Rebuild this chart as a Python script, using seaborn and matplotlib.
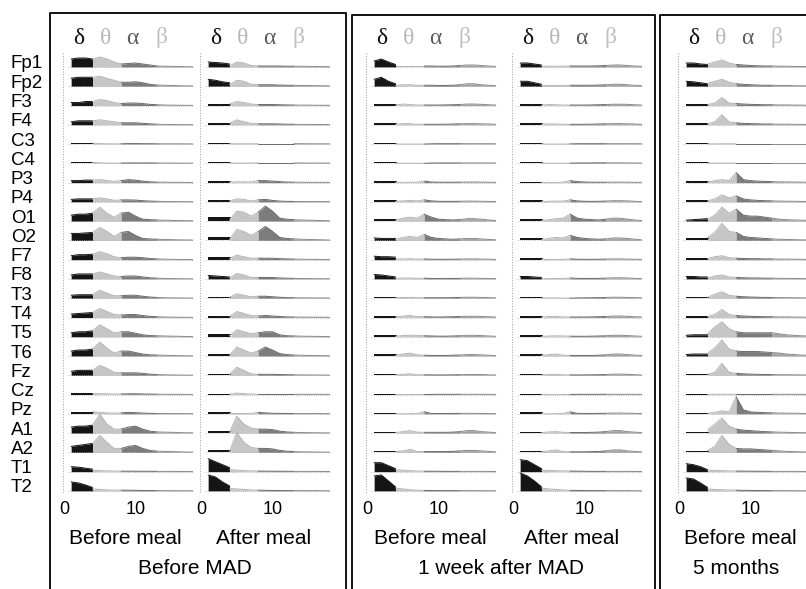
import pandas as pd
import matplotlib
matplotlib.use("Agg")
import matplotlib.pyplot as plt
from matplotlib.lines import Line2D
import seaborn as sns

# EEG power spectra, heights (px above each baseline)
channels = ['Fp1', 'Fp2', 'F3', 'F4', 'C3', 'C4', 'P3', 'P4', 'O1', 'O2', 'F7', 'F8',
            'T3', 'T4', 'T5', 'T6', 'Fz', 'Cz', 'Pz', 'A1', 'A2', 'T1', 'T2']
# 4 Hz appears twice: end of the delta block and start of theta
freqs = [1, 2, 3, 4, 4, 5, 6, 7, 8, 9, 10, 11, 12, 13, 14, 15, 16, 17, 18]
band_names = ['δ', 'θ', 'α', 'β']

mad0_pre = [
    [8, 9, 9, 8, 8, 10, 8, 5, 3, 3.5, 4, 3, 2, 1, 0.8, 0.6, 0.5, 0.3, 0.2],
    [8, 9, 9, 9, 9, 10, 8, 6, 4, 4, 4.5, 3.5, 2, 1.2, 1, 0.8, 0.6, 0.4, 0.3],
    [3, 3, 4, 4, 4, 6, 5, 3, 2, 2.5, 2.5, 2, 1.2, 0.8, 0.5, 0.4, 0.3, 0.2, 0.2],
    [3, 4, 4, 4, 4, 5, 4, 3, 2, 2, 2, 1.5, 1, 0.6, 0.4, 0.3, 0.2, 0.2, 0.1],
    [1.5, 1.5, 1.5, 1.5, 1, 0.5, 0.3, 0.2, 0.3, 0.5, 0.5, 0.4, 0.4, 0.3, 0.3, 0.3, 0.3, 0.2, 0.2],
    [1.5, 1.5, 1.5, 1.5, 1, 0.5, 0.3, 0.2, 0.3, 0.4, 0.4, 0.4, 0.4, 0.3, 0.3, 0.3, 0.2, 0.2, 0.2],
    [2, 2, 2.5, 2.5, 2.5, 3, 2, 1.2, 2, 3, 2.5, 1.5, 0.8, 0.5, 0.4, 0.3, 0.3, 0.2, 0.2],
    [2.5, 3, 3, 3, 3, 4, 3, 1.5, 2, 2, 1.8, 1.2, 0.8, 0.6, 0.4, 0.3, 0.3, 0.2, 0.2],
    [6, 7, 7, 8, 8, 14, 8, 4, 8, 9, 5, 2, 1.5, 1.2, 1, 0.8, 0.6, 0.5, 0.4],
    [7, 7, 7.5, 8, 8, 13, 9, 4, 8, 9, 5, 2, 1.5, 1.2, 1, 0.8, 0.6, 0.5, 0.4],
    [4, 5, 5, 5.5, 5.5, 8, 6, 3, 2, 2.5, 2.5, 2, 1.2, 0.8, 0.5, 0.4, 0.3, 0.2, 0.2],
    [4, 5, 5, 5, 5, 7, 5, 3, 2.5, 3, 3, 2, 1.2, 0.8, 0.5, 0.4, 0.3, 0.2, 0.2],
    [3, 3.5, 3.5, 3.5, 3.5, 8, 5, 2.5, 2.5, 3, 3, 2, 1.2, 0.8, 0.5, 0.4, 0.3, 0.2, 0.2],
    [3.5, 4, 4.5, 5, 5, 9, 6, 3, 2.5, 3, 3, 2, 1.2, 0.8, 0.5, 0.4, 0.3, 0.2, 0.2],
    [4, 5, 5, 6, 6, 12, 8, 4, 5, 5, 3.5, 2, 1.2, 1, 0.8, 0.6, 0.5, 0.3, 0.2],
    [5, 6, 6, 7, 7, 14, 8, 3, 5, 5, 3.5, 2, 1.2, 1, 0.8, 0.6, 0.4, 0.3, 0.2],
    [4, 5, 5, 5, 5, 10, 7, 3, 2.5, 2.5, 2.5, 2, 1.2, 0.8, 0.5, 0.4, 0.3, 0.2, 0.2],
    [1.5, 1.5, 1.5, 1.5, 1, 1, 0.8, 0.6, 0.6, 0.8, 0.8, 0.6, 0.5, 0.4, 0.3, 0.3, 0.3, 0.2, 0.2],
    [2, 2, 2, 2, 2, 1.5, 1, 0.6, 1, 1.5, 1.2, 0.8, 0.5, 0.4, 0.3, 0.3, 0.3, 0.2, 0.2],
    [6, 7, 7, 8, 8, 19, 9, 4, 4, 6, 7, 4, 2, 1.2, 1, 0.8, 0.6, 0.4, 0.3],
    [6, 7, 8, 9, 9, 17, 10, 4, 4, 6, 7, 4, 2, 1.2, 1, 0.8, 0.6, 0.4, 0.3],
    [5, 4.5, 3.5, 2.5, 1.5, 1, 0.8, 0.6, 0.5, 0.5, 0.5, 0.4, 0.4, 0.3, 0.3, 0.3, 0.2, 0.2, 0.2],
    [9, 8, 6, 3.5, 2, 1.5, 1, 0.8, 0.8, 0.7, 0.6, 0.5, 0.4, 0.3, 0.3, 0.3, 0.2, 0.2, 0.2],
]

mad0_post = [
    [5, 4.5, 4, 3, 1, 5, 4, 1.5, 1, 1, 1, 1, 0.8, 0.8, 0.7, 0.6, 0.5, 0.4, 0.3],
    [7, 6, 4.5, 3.5, 1.5, 6, 5, 2, 1.5, 1.5, 1.5, 1.2, 1, 1, 0.8, 0.7, 0.6, 0.5, 0.4],
    [2, 2, 2, 2, 1.5, 4, 3, 1.5, 1, 1, 1, 0.8, 0.6, 0.5, 0.4, 0.4, 0.3, 0.3, 0.2],
    [2, 2, 2, 2, 1.5, 5, 3, 1.5, 1, 1, 1, 0.8, 0.6, 0.5, 0.4, 0.4, 0.3, 0.3, 0.2],
    [1.5, 1.5, 1.5, 1.5, 0.3, 0.3, 0.3, 0.3, 0.4, 0.4, 0.4, 0.4, 0.4, 0.4, 0.4, 0.3, 0.3, 0.3, 0.3],
    [1.5, 1.5, 1.5, 1.5, 0.3, 0.3, 0.3, 0.3, 0.4, 0.4, 0.4, 0.4, 0.4, 0.4, 0.4, 0.3, 0.3, 0.3, 0.3],
    [1.5, 1.5, 1.5, 1.5, 0.5, 0.8, 0.8, 0.6, 2, 2, 1.5, 1, 0.6, 0.4, 0.4, 0.3, 0.3, 0.3, 0.2],
    [2, 2, 2, 2, 1, 3, 2.5, 1, 2, 2.5, 1.5, 0.8, 0.5, 0.4, 0.4, 0.3, 0.3, 0.3, 0.2],
    [4, 4, 4, 4, 1, 10, 9, 5, 9, 15, 10, 3, 2, 1.5, 1.2, 1, 0.8, 0.6, 0.4],
    [3.5, 3.5, 3.5, 3.5, 1, 11, 9, 5, 9, 14, 9, 3, 2, 1.5, 1.2, 1, 0.8, 0.6, 0.4],
    [3, 3, 3, 3, 1, 4.5, 3, 1.5, 1.5, 1.5, 1.5, 1, 0.8, 0.6, 0.5, 0.4, 0.3, 0.3, 0.2],
    [3.5, 3, 2.5, 2, 1, 5.5, 4, 1.5, 1.5, 1.5, 1.5, 1, 0.8, 0.6, 0.5, 0.4, 0.3, 0.3, 0.2],
    [1.5, 1.5, 1.5, 1.5, 1, 4.5, 3, 1.5, 2, 2, 1.5, 1, 0.6, 0.5, 0.4, 0.4, 0.3, 0.3, 0.2],
    [1.5, 1.5, 1.5, 1.5, 1, 6, 4, 2, 1.5, 2, 1.5, 1, 0.6, 0.5, 0.4, 0.4, 0.3, 0.3, 0.2],
    [2.5, 2.5, 2.5, 2.5, 1, 7, 5, 3, 4, 5, 5, 2, 1, 0.8, 0.6, 0.5, 0.4, 0.3, 0.2],
    [2.5, 2.5, 2.5, 2.5, 1, 9, 6, 3, 5, 9, 6, 2.5, 1.5, 1, 0.8, 0.6, 0.5, 0.4, 0.3],
    [1.5, 1.5, 1.5, 1.5, 1, 8, 5, 1.5, 1, 1, 1, 0.8, 0.6, 0.5, 0.4, 0.4, 0.3, 0.3, 0.2],
    [0.5, 0.5, 0.5, 0.5, 0.3, 1.5, 1, 0.5, 0.3, 0.3, 0.3, 0.3, 0.3, 0.3, 0.3, 0.3, 0.3, 0.3, 0.2],
    [1.5, 1.5, 1.5, 1.5, 0.3, 0.3, 0.3, 0.3, 1.5, 1, 0.6, 0.5, 0.4, 0.3, 0.3, 0.3, 0.3, 0.3, 0.2],
    [2.5, 2.5, 2.5, 2.5, 1, 17, 9, 5, 4, 4, 3.5, 2, 1.2, 0.8, 0.6, 0.5, 0.4, 0.3, 0.2],
    [2, 2, 2, 2, 1, 20, 10, 5, 4, 4, 3.5, 2, 1.2, 0.8, 0.6, 0.5, 0.4, 0.3, 0.2],
    [13, 10, 7, 4, 2, 1.5, 1, 0.8, 0.6, 0.5, 0.5, 0.4, 0.4, 0.3, 0.3, 0.3, 0.3, 0.2, 0.2],
    [16, 14, 9, 5, 2.5, 2, 1.5, 1, 0.8, 0.6, 0.5, 0.4, 0.4, 0.3, 0.3, 0.3, 0.3, 0.2, 0.2],
]

week1_pre = [
    [6, 8, 5, 2.5, 1, 1, 1, 1, 1, 1, 0.8, 0.8, 1, 1.5, 2, 2, 1.5, 1, 0.6],
    [7, 9, 5, 2.5, 1, 1.5, 1.5, 1, 1, 1, 0.8, 0.8, 1, 1.5, 2.5, 2.5, 1.5, 1, 0.6],
    [1.5, 1.5, 1.5, 1.5, 0.5, 1.5, 1, 0.5, 0.5, 0.5, 0.5, 0.6, 0.8, 1, 1.5, 1.5, 1.2, 0.8, 0.5],
    [1.5, 1.5, 1.5, 1.5, 0.5, 1.2, 1.2, 0.5, 0.5, 0.5, 0.5, 0.6, 0.8, 1, 1.2, 1.2, 1, 0.8, 0.5],
    [1, 1, 1, 1, 0.1, 0, 0, 0, 0, 0.3, 0.4, 0.4, 0.4, 0.4, 0.4, 0.4, 0.4, 0.4, 0.3],
    [1, 1, 1, 1, 0.1, 0, 0, 0, 0, 0.3, 0.4, 0.4, 0.4, 0.4, 0.4, 0.4, 0.4, 0.4, 0.3],
    [1.5, 1.5, 1.5, 1.5, 0.3, 0.3, 0.3, 0.5, 1.5, 0.6, 0.4, 0.4, 0.4, 0.5, 0.6, 0.6, 0.5, 0.4, 0.3],
    [1.5, 1.5, 1.5, 1.5, 0.5, 1, 1.5, 1, 2, 1, 0.6, 0.5, 0.5, 0.6, 0.8, 0.8, 0.6, 0.5, 0.3],
    [2, 2, 2, 2, 1, 3, 4, 3, 7, 4, 2, 1.5, 1.2, 1.5, 2.5, 2.5, 2, 1.2, 0.6],
    [2.5, 2, 2, 2, 1, 3, 4, 3, 6, 3, 2, 1.5, 1.2, 1.5, 2, 2, 1.5, 1, 0.6],
    [3.5, 3, 3, 2.5, 0.5, 0.8, 1, 0.6, 0.8, 0.5, 0.4, 0.4, 0.5, 0.6, 0.8, 0.8, 0.6, 0.5, 0.3],
    [4.5, 4, 3, 2, 0.5, 1, 1, 0.6, 0.8, 0.5, 0.4, 0.4, 0.5, 0.6, 0.8, 0.8, 0.6, 0.5, 0.3],
    [1.5, 1.5, 1.5, 1.5, 0.4, 0.8, 0.8, 0.5, 0.5, 0.5, 0.5, 0.5, 0.6, 0.8, 1, 1, 0.8, 0.6, 0.4],
    [1.5, 1.5, 1.5, 1.5, 0.5, 1.5, 2, 1, 0.8, 0.6, 0.5, 0.6, 0.8, 1, 1.2, 1.2, 1, 0.8, 0.5],
    [1.5, 1.5, 1.5, 1.5, 0.5, 1.2, 1.5, 1.5, 1, 0.8, 0.6, 0.6, 0.8, 1, 1.5, 1.5, 1.2, 0.8, 0.5],
    [2, 2, 2, 2, 0.6, 2, 3, 1.2, 0.8, 0.6, 0.6, 0.6, 0.8, 1, 1.5, 1.5, 1.2, 0.8, 0.5],
    [1.5, 1.5, 1.5, 1.5, 0.4, 1, 1.5, 0.5, 0.5, 0.4, 0.4, 0.4, 0.5, 0.6, 0.8, 0.8, 0.8, 0.5, 0.3],
    [0.8, 0.8, 0.8, 0.8, 0.1, 0, 0, 0, 0, 0.2, 0.3, 0.3, 0.3, 0.3, 0.3, 0.3, 0.3, 0.3, 0.2],
    [1, 1, 1, 1, 0.1, 0, 0.2, 0.4, 2, 0.4, 0.3, 0.3, 0.4, 0.5, 0.5, 0.5, 0.4, 0.3, 0.2],
    [1.5, 1.5, 1.5, 1.5, 0.6, 1.5, 2.5, 1, 0.8, 0.8, 0.8, 0.8, 1, 1.5, 2.5, 2.5, 1.5, 1, 0.5],
    [1.5, 1.5, 1.5, 1.5, 0.6, 1.5, 3, 1, 0.8, 0.8, 0.8, 0.8, 1, 1.5, 2, 2, 1.5, 1, 0.5],
    [9, 9, 6, 3, 2, 1.5, 1, 0.7, 0.5, 0.4, 0.4, 0.3, 0.3, 0.3, 0.3, 0.3, 0.3, 0.2, 0.2],
    [15, 16, 10, 4, 3, 2, 1.2, 0.8, 0.5, 0.4, 0.4, 0.3, 0.3, 0.3, 0.3, 0.3, 0.3, 0.2, 0.2],
]

week1_post = [
    [4, 4, 3, 2, 0.8, 0.8, 0.8, 0.8, 1, 1, 1, 1, 1.2, 1.5, 2, 2, 1.5, 1, 0.6],
    [5, 5, 3.5, 2, 0.8, 0.8, 0.8, 0.8, 1, 1, 1, 1, 1.2, 1.5, 2, 2, 1.5, 1, 0.6],
    [1.5, 1.5, 1.5, 1.5, 0.5, 1, 0.8, 0.5, 0.5, 0.5, 0.5, 0.6, 0.8, 1, 1.3, 1.3, 1.2, 0.8, 0.5],
    [1.5, 1.5, 1.5, 1.5, 0.5, 1, 0.8, 0.5, 0.5, 0.5, 0.5, 0.6, 0.8, 1, 1.2, 1.2, 1, 0.8, 0.5],
    [1.5, 1.5, 1.5, 1.5, 0.1, 0, 0, 0, 0.2, 0.4, 0.4, 0.4, 0.4, 0.4, 0.4, 0.4, 0.4, 0.4, 0.3],
    [1, 1, 1, 1, 0.1, 0, 0, 0, 0.2, 0.4, 0.4, 0.4, 0.5, 0.5, 0.5, 0.5, 0.4, 0.4, 0.3],
    [1, 1, 1, 1, 0.1, 0, 0, 0.5, 2, 1, 0.6, 0.4, 0.4, 0.4, 0.5, 0.5, 0.4, 0.3, 0.3],
    [1.5, 1.5, 1.5, 1.5, 0.3, 0.6, 0.8, 0.8, 2, 1, 0.6, 0.5, 0.6, 0.8, 1.2, 1.2, 1, 0.6, 0.3],
    [2, 2, 2, 2, 0.5, 1.5, 2.5, 3, 7, 3, 2, 1.5, 1.2, 2, 3, 3, 2, 1.2, 0.6],
    [2, 2, 2, 2, 0.5, 2, 3, 2.5, 5, 3, 2, 1.5, 1.2, 1.5, 2.5, 2.5, 2, 1.2, 0.6],
    [1.5, 1.5, 1.5, 1.5, 0.2, 0.3, 0.3, 0.3, 0.8, 0.5, 0.4, 0.4, 0.5, 0.6, 0.8, 0.8, 0.6, 0.5, 0.3],
    [2.5, 2.5, 2, 1.5, 0.2, 0.4, 0.4, 0.4, 1, 0.6, 0.5, 0.5, 0.6, 0.8, 1.2, 1.2, 1, 0.6, 0.3],
    [1.5, 1.5, 1.5, 1.5, 0.1, 0.3, 0.3, 0.1, 0.1, 0.3, 0.4, 0.5, 0.6, 0.8, 1, 1, 0.8, 0.6, 0.4],
    [1.5, 1.5, 1.5, 1.5, 0.3, 1, 1.2, 0.5, 0.5, 0.5, 0.5, 0.6, 0.8, 1, 1.5, 1.5, 1.2, 0.8, 0.5],
    [1.5, 1.5, 1.5, 1.5, 0.3, 0.8, 1, 0.8, 0.6, 0.5, 0.5, 0.6, 0.8, 1, 1.5, 1.5, 1.2, 0.8, 0.5],
    [2, 2, 2, 2, 0.5, 1.5, 2, 0.8, 0.6, 0.6, 0.6, 0.6, 0.8, 1.2, 2, 2, 1.5, 1, 0.5],
    [1.5, 1.5, 1.5, 1.5, 0.3, 0.8, 1, 0.5, 0.4, 0.4, 0.4, 0.5, 0.6, 0.8, 1.2, 1.2, 1, 0.6, 0.3],
    [1, 1, 1, 1, 0.1, 0, 0, 0, 0.1, 0.3, 0.3, 0.3, 0.3, 0.3, 0.3, 0.3, 0.3, 0.3, 0.2],
    [1.5, 1.5, 1.5, 1.5, 0.1, 0, 0.2, 0.5, 2, 0.5, 0.4, 0.4, 0.5, 0.6, 0.8, 0.8, 0.6, 0.5, 0.3],
    [1.5, 1.5, 1.5, 1.5, 0.5, 1.2, 1.5, 0.8, 0.6, 0.6, 0.6, 0.8, 1, 1.5, 2.5, 2.5, 1.5, 1, 0.5],
    [1.5, 1.5, 1.5, 1.5, 0.5, 1.5, 2.5, 0.8, 0.6, 0.6, 0.6, 0.8, 1, 1.5, 2.5, 2.5, 1.5, 1, 0.5],
    [12, 11, 7, 3, 1.5, 1.2, 1, 0.8, 0.6, 0.5, 0.4, 0.3, 0.3, 0.3, 0.3, 0.3, 0.3, 0.2, 0.2],
    [18, 15, 10, 4, 3, 2, 1.5, 1, 0.6, 0.5, 0.4, 0.3, 0.3, 0.3, 0.3, 0.3, 0.3, 0.2, 0.2],
]

month5_pre = [
    [4, 4, 3, 2.5, 3, 5, 7, 4, 2.5, 2, 1.5, 1.2, 1, 1, 0.8, 0.8, 0.6, 0.5, 0.4],
    [5, 4.5, 3.5, 2.5, 3, 5, 7, 4, 2.5, 2, 1.5, 1.2, 1, 1, 0.8, 0.8, 0.6, 0.5, 0.4],
    [1.5, 1.5, 1.5, 1.5, 1, 2.5, 8, 2.5, 2, 1.5, 1.2, 1, 0.8, 0.8, 0.6, 0.6, 0.5, 0.4, 0.3],
    [1.5, 1.5, 1.5, 1.5, 1, 3, 10, 3, 2, 1.5, 1.2, 1, 0.8, 0.8, 0.6, 0.6, 0.5, 0.4, 0.3],
    [1, 1, 1, 1, 0.1, 0.2, 0.3, 0.3, 0.3, 0.3, 0.3, 0.3, 0.3, 0.3, 0.3, 0.3, 0.3, 0.3, 0.3],
    [1, 1, 1, 1, 0.2, 0.3, 0.3, 0.3, 0.3, 0.3, 0.3, 0.3, 0.3, 0.3, 0.3, 0.3, 0.3, 0.3, 0.3],
    [1.5, 1.5, 1.5, 1.5, 0.5, 2, 3, 2, 10, 3, 2, 1.5, 1.2, 1, 0.8, 0.7, 0.6, 0.5, 0.4],
    [1.5, 1.5, 1.5, 1.5, 1, 3, 7, 4, 6, 3, 2, 1.5, 1.2, 1, 0.8, 0.7, 0.6, 0.5, 0.4],
    [1, 1.5, 2, 2.5, 2, 6, 14, 8, 12, 6, 5, 5, 4, 3, 2, 1.5, 1.2, 1, 0.8],
    [2.5, 2.5, 2.5, 2.5, 3, 8, 17, 9, 8, 4, 3, 2.5, 2, 1.5, 1.2, 1, 0.8, 0.6, 0.5],
    [1.5, 1.5, 1.5, 1.5, 1, 3, 4, 2, 1.5, 1.2, 1, 1, 0.8, 0.8, 0.6, 0.6, 0.5, 0.4, 0.3],
    [2.5, 2.5, 2, 2, 1, 3, 4, 2, 1.5, 1.2, 1, 1, 0.8, 0.8, 0.6, 0.6, 0.5, 0.4, 0.3],
    [1.5, 1.5, 1.5, 1.5, 1, 4, 6.5, 3, 2, 1.5, 1.2, 1, 0.8, 0.8, 0.6, 0.6, 0.5, 0.4, 0.3],
    [1.5, 1.5, 1.5, 1.5, 1, 3, 8, 3, 2, 1.5, 1.2, 1, 0.8, 0.8, 0.6, 0.6, 0.5, 0.4, 0.3],
    [1.5, 2, 2, 2, 3, 10, 15, 8, 5, 4, 4, 4, 4, 4, 3, 2, 1.5, 1, 0.8],
    [1.5, 2, 2, 2, 3, 8, 16, 7, 5, 4.5, 4.5, 4.5, 4, 3.5, 3, 2, 1.5, 1, 0.8],
    [1, 1, 1, 1, 1, 3, 12, 3, 2, 1.5, 1.2, 1, 0.8, 0.8, 0.6, 0.6, 0.5, 0.4, 0.3],
    [0.8, 0.8, 0.8, 0.8, 0.2, 0.3, 0.4, 0.3, 0.3, 0.3, 0.3, 0.3, 0.3, 0.3, 0.3, 0.3, 0.3, 0.3, 0.2],
    [1, 1, 1, 1, 0.5, 1.5, 3, 2, 17, 4, 2, 1.5, 1.2, 1, 0.8, 0.7, 0.6, 0.5, 0.4],
    [1.5, 1.5, 1.5, 1.5, 3, 9, 15, 7, 4, 3, 2.5, 2, 1.5, 1.2, 1, 0.8, 0.6, 0.5, 0.4],
    [1.5, 1.5, 1.5, 1.5, 2, 6, 17, 8, 4, 3.5, 3.5, 3, 2.5, 2, 1.5, 1, 0.8, 0.6, 0.4],
    [8, 7, 5, 2, 1.5, 1.2, 1, 0.8, 0.6, 0.5, 0.5, 0.4, 0.4, 0.3, 0.3, 0.3, 0.3, 0.2, 0.2],
    [13, 12, 8, 3.5, 2, 1.5, 1.2, 1, 0.8, 0.6, 0.5, 0.4, 0.4, 0.3, 0.3, 0.3, 0.3, 0.2, 0.2],
]

panels = [mad0_pre, mad0_post, week1_pre, week1_post, month5_pre]
meal_labels = ['Before meal', 'After meal', 'Before meal', 'After meal', 'Before meal']
group_labels = ['Before MAD', '1 week after MAD', '5 months']

# layout, in pixels of the 806x589 canvas
W, H = 806, 589
hz_px = 7.15
row_px = 19.27
zero_px = [64, 201, 367, 513, 679]
top_px, bottom_px, base0_px = 25, 500, 67

band_slices = {'delta': (0, 4), 'theta': (4, 9), 'alpha': (8, 14), 'beta': (13, 19)}
band_fill = {'delta': '#151515', 'theta': '#c6c6c6', 'alpha': '#7c7c7c', 'beta': '#a4a4a4'}
band_line = {'delta': '#151515', 'theta': '#b4b4b4', 'alpha': '#6a6a6a', 'beta': '#8a8a8a'}
greek_pos = [2.1, 5.8, 9.6, 13.6]
greek_color = ['#111111', '#b8b8b8', '#5c5c5c', '#c0c0c0']

sns.set_style("white")
plt.rcParams['font.family'] = ['Liberation Sans', 'DejaVu Sans']
plt.rcParams['text.color'] = 'black'
plt.rcParams['xtick.color'] = 'black'

fig = plt.figure(figsize=(W / 100, H / 100), dpi=100)

for data, x0 in zip(panels, zero_px):
    ax = fig.add_axes([(x0 - hz_px) / W, 1 - bottom_px / H,
                       20 * hz_px / W, (bottom_px - top_px) / H])
    ax.set_facecolor('none')
    rows = []
    for i, (ch, spec) in enumerate(zip(channels, data)):
        base = -i * row_px
        ax.plot([0.5, 18], [base, base], ls=':', color='#b0b0b0', lw=0.6)
        for band, (a, b) in band_slices.items():
            xs = freqs[a:b]
            ys = [base + v for v in spec[a:b]]
            ax.fill_between(xs, base, ys, color=band_fill[band], lw=0)
            for f, y in zip(xs, ys):
                rows.append({'freq': f, 'power': y, 'band': band, 'seg': f'{ch}-{band}'})
    df = pd.DataFrame(rows)
    sns.lineplot(data=df, x='freq', y='power', hue='band', units='seg',
                 estimator=None, sort=False, palette=band_line, lw=0.7,
                 legend=False, ax=ax)
    # dotted frequency axis at 0 Hz
    ax.plot([-0.1, -0.1], [14, -22 * row_px - 2], ls=':', color='#9a9a9a', lw=0.7)
    for g, gx, gc in zip(band_names, greek_pos, greek_color):
        ax.text(gx, base0_px - 38, g, ha='center', va='center', fontsize=17,
                color=gc, family=['Liberation Serif', 'DejaVu Serif'])
    ax.set_xlim(-1, 19)
    ax.set_ylim(-(bottom_px - base0_px), base0_px - top_px)
    ax.set_xticks([0, 10])
    ax.set_xticklabels(['0', '10'])
    ax.tick_params(axis='x', length=0, labelsize=13, pad=1, labelcolor='black')
    ax.set_yticks([])
    ax.set_xlabel('')
    ax.set_ylabel('')
    sns.despine(ax=ax, left=True, bottom=True)

for i, ch in enumerate(channels):
    fig.text(11 / W, 1 - (base0_px - 3 + i * row_px) / H, ch,
             ha='left', va='center', fontsize=13.5)

for lab, cx in zip(meal_labels, [125, 264, 430, 572, 740]):
    fig.text(cx / W, 1 - 538 / H, lab, ha='center', va='center', fontsize=15)
for lab, cx in zip(group_labels, [195, 501, 736]):
    fig.text(cx / W, 1 - 569 / H, lab, ha='center', va='center', fontsize=15)

# panel frames, open at the bottom
for left, right, top in [(50, 346, 13), (352, 655, 15), (660, 830, 15)]:
    xs = [left / W, left / W, right / W, right / W]
    ys = [-0.05, 1 - top / H, 1 - top / H, -0.05]
    fig.add_artist(Line2D(xs, ys, color='#111111', lw=1.4))

fig.savefig('out.png', dpi=100)
